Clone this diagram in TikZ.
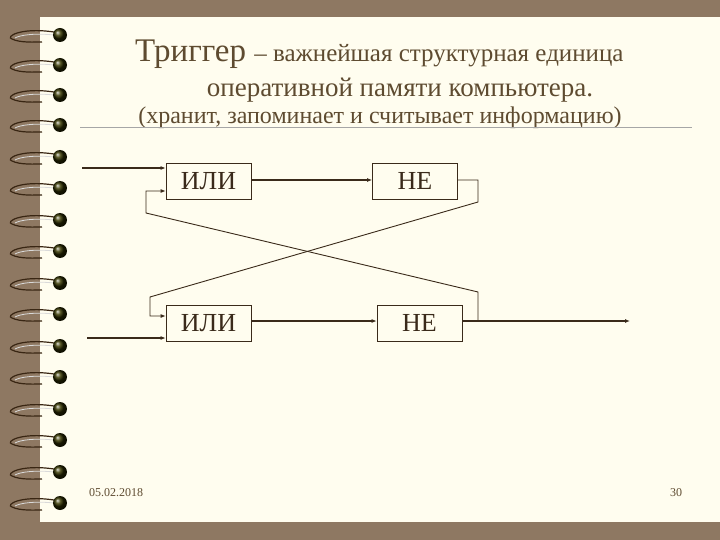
\documentclass[tikz,border=0pt]{standalone}
\usepackage{fontspec}
\setmainfont{Liberation Serif}
\usetikzlibrary{arrows.meta}
\definecolor{bgbrown}{HTML}{8E7862}
\definecolor{paper}{HTML}{FFFDEF}
\definecolor{ink}{HTML}{5E4B30}
\definecolor{wirec}{HTML}{3A2A1A}
\begin{document}
\begin{tikzpicture}[x=1pt,y=-1pt,
  gate/.style={draw=wirec,line width=0.7pt,minimum width=85pt,minimum height=36pt,font=\fontsize{26}{28}\selectfont,inner sep=0pt,text=wirec},
  wire/.style={draw=wirec,line width=1.3pt},
  arr/.style={wire,-{Latex[length=5pt,width=4pt]}},
  ttl/.style={text=ink,inner sep=0pt}]
\useasboundingbox (0,0) rectangle (720,540);
\fill[bgbrown] (0,0) rectangle (720,540);
\fill[paper] (40,17) rectangle (720,522);
% spiral
\foreach \y in {35,65,95,125,157,188,220,251,283,314,346,377,409,440,472,503}{
  \draw[black!70!brown,line width=1.2pt] (54,\y-3) .. controls (20,\y-8) and (5,\y+2) .. (12,\y+4) .. controls (20,\y+8) and (35,\y+7) .. (42,\y+7);
  \draw[gray!30,line width=0.8pt] (54,\y) .. controls (35,\y-2) and (20,\y) .. (15,\y+3);
  \shade[ball color=black!75!olive] (60,\y) circle (7);
}
\node[ttl,anchor=base west] (t1) at (135,62) {\fontsize{33}{34}\selectfont Триггер \fontsize{25}{26}\selectfont – важнейшая структурная единица};
\node[ttl,anchor=base] (t2) at (400,97) {\fontsize{27}{28}\selectfont оперативной памяти компьютера.};
\node[ttl,anchor=base] (t3) at (380,124) {\fontsize{24}{26}\selectfont (хранит, запоминает и считывает информацию)};
\draw[gray!70,line width=0.8pt] (80,127) -- (692,127);
\node[gate] (o1) at (208.5,181) {ИЛИ};
\node[gate] (n1) at (415,181) {НЕ};
\node[gate] (o2) at (208.5,323) {ИЛИ};
\node[gate] (n2) at (419.5,323) {НЕ};
\coordinate (i1) at (82,168);
\coordinate (i2) at (87,338);
\coordinate (out) at (630,321);
\draw[arr] (i1) -- (o1.west |- i1);
\draw[arr] (i2) -- (o2.west |- i2);
\draw[arr] (o1.east |- 0,180) -- (n1.west |- 0,180);
\draw[arr] (o2.east |- 0,321) -- (n2.west |- 0,321);
\draw[arr] (n2.east |- 0,321) -- (out);
\draw[arr,line width=0.9pt] (n1.east |- 0,180) -- (478,180) -- (478,202) -- (150,297) -- (150,316) -- (o2.west |- 0,316);
\draw[arr,line width=0.9pt] (478,321) -- (478,292) -- (146,213) -- (146,191) -- (o1.west |- 0,191);
\node[ttl,font=\fontsize{12}{14}\selectfont] (d) at (116,493) {05.02.2018};
\node[ttl,font=\fontsize{12}{14}\selectfont] (p) at (676,493) {30};
\end{tikzpicture}
\end{document}
